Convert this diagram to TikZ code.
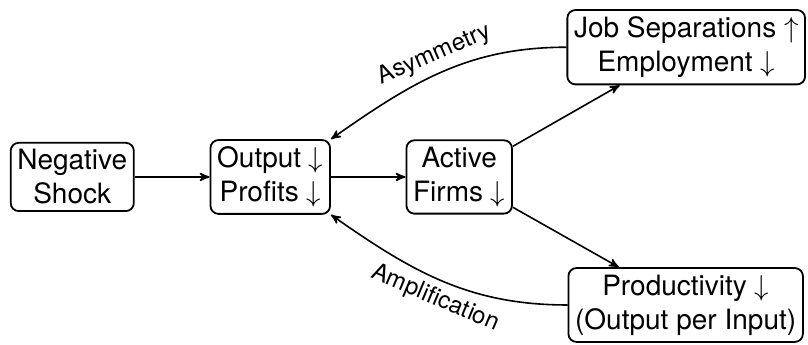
\documentclass[tikz,border=0pt]{standalone}
\usepackage{fontspec}
\setmainfont{TeX Gyre Heros}
\usetikzlibrary{arrows}

\begin{document}
\begin{tikzpicture}[>=stealth', line width=0.8pt,
  box/.style={draw, rounded corners=4pt, align=center, line width=0.9pt, font=\fontsize{14}{17}\selectfont},
  lab/.style={font=\fontsize{12}{14}\selectfont}]
%\draw[help lines] (0,0) grid (14,-6);
\useasboundingbox (0,0) rectangle (14.2,-6.063);
\node[box] (shock) at (1.27,-3.11) {Negative\\Shock};
\node[box] (output) at (4.75,-3.11) {Output $\downarrow$\\Profits $\downarrow$};
\node[box] (firms) at (8.07,-3.11) {Active\\Firms $\downarrow$};
\node[box] (jobs) at (12.06,-0.83) {Job Separations $\uparrow$\\Employment $\downarrow$};
\node[box] (prod) at (12.05,-5.36) {Productivity $\downarrow$\\(Output per Input)};
\draw[->] (shock) -- (output);
\draw[->] (output) -- (firms);
\draw[->] (firms) -- (jobs);
\draw[->] (firms) -- (prod);
\draw[->] (jobs.west) to[out=180,in=35] node [lab, midway, above, sloped] {Asymmetry} (output.north east);
\draw[->] (prod.west) to[out=180,in=-35] node [lab, midway, below, sloped] {Amplification} (output.south east);
\end{tikzpicture}
\end{document}
